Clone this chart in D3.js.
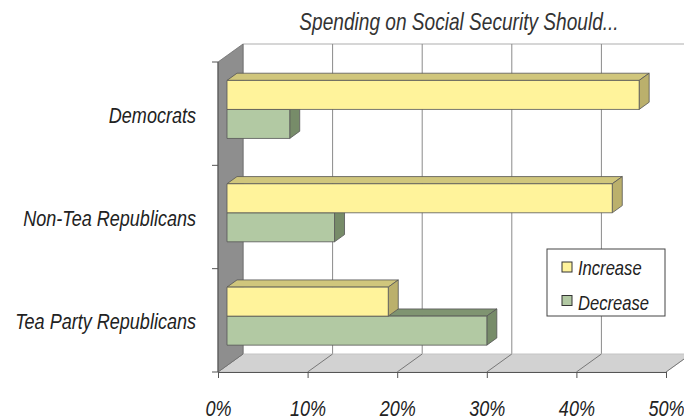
<!DOCTYPE html>
<html><head><meta charset="utf-8">
<script src="https://cdn.jsdelivr.net/npm/d3@7"></script>
<style>
html,body{margin:0;padding:0;background:#fff;}
text{font-family:"Liberation Sans Narrow","Arial Narrow","Liberation Sans",sans-serif;font-style:italic;fill:#222;}
</style></head>
<body><svg id="c" width="684" height="419"></svg>
<script>
const categories = ["Democrats", "Non-Tea Republicans", "Tea Party Republicans"];
const seriesNames = ["Increase", "Decrease"];
const increase = [46, 43, 18];
const decrease = [7, 12, 29];
const xTicks = [0, 10, 20, 30, 40, 50];
const title = "Spending on Social Security Should...";

const colors = {
  Increase: {front: "#fff39b", top: "#d0c67c", side: "#bbb06c"},
  Decrease: {front: "#b2c9a3", top: "#7f9471", side: "#778c69"}
};
const SX = 0.82; // horizontal condensing of the text

const svg = d3.select("#c");
const DX = 25, DY = -18;            // depth offset of the back wall
const f1 = 0.36, f2 = 0.76;          // bar front / back depth fractions
const x = d3.scaleLinear().domain([0, 50]).range([218, 666]);
const yTop = 62, yBot = 372;
const y0 = d3.scaleBand().domain(categories).range([yTop, yBot]).paddingInner(0.4385).paddingOuter(0.219).align(0.55);
const y1 = d3.scaleBand().domain(seriesNames).range([0, y0.bandwidth()]);
const yb = d3.scaleBand().domain(categories).range([yTop, yBot]);

// back wall
svg.append("rect").attr("x", x(0) + DX).attr("y", yTop + DY).attr("width", x(50) - x(0)).attr("height", yBot - yTop)
  .attr("fill", "#fff").attr("stroke", "none");
svg.append("line").attr("x1", x(0) + DX).attr("x2", 684).attr("y1", yTop + DY).attr("y2", yTop + DY)
  .attr("stroke", "#c8c8c8").attr("stroke-width", 1.5);
svg.append("g").selectAll("line").data(xTicks).join("line")
  .attr("x1", d => x(d) + DX).attr("x2", d => x(d) + DX)
  .attr("y1", yTop + DY).attr("y2", yBot + DY)
  .attr("stroke", "#8a8a8a").attr("stroke-width", 1);

// floor
svg.append("polygon")
  .attr("points", [[x(0), yBot], [x(50), yBot], [x(50) + DX, yBot + DY], [x(0) + DX, yBot + DY]].map(p => p.join(",")).join(" "))
  .attr("fill", "#d2d2d2").attr("stroke", "#c4c4c4");
svg.append("g").selectAll("line").data(xTicks).join("line")
  .attr("x1", d => x(d)).attr("x2", d => x(d) + DX)
  .attr("y1", yBot).attr("y2", yBot + DY)
  .attr("stroke", "#777").attr("stroke-width", 1);

// left wall
svg.append("polygon")
  .attr("points", [[x(0), yTop], [x(0) + DX, yTop + DY], [x(0) + DX, yBot + DY], [x(0), yBot]].map(p => p.join(",")).join(" "))
  .attr("fill", "#8e8e8e").attr("stroke", "#6e6e6e").attr("stroke-width", 0.8);

// bars
const bx1 = f1 * DX, by1 = f1 * DY, bx2 = f2 * DX, by2 = f2 * DY;
const rows = [];
categories.forEach((c, i) => {
  rows.push({cat: c, s: "Decrease", v: decrease[i]});
  rows.push({cat: c, s: "Increase", v: increase[i]});
});
const pts = a => a.map(p => p.join(",")).join(" ");
const gb = svg.append("g");
rows.forEach(d => {
  const top = y0(d.cat) + y1(d.s), h = y1.bandwidth();
  const xa = x(0), xv = x(d.v);
  const g = gb.append("g").attr("stroke", "#555").attr("stroke-width", 0.8).attr("stroke-linejoin", "round");
  g.append("polygon").attr("points", pts([[xa + bx1, top + by1], [xv + bx1, top + by1], [xv + bx2, top + by2], [xa + bx2, top + by2]]))
    .attr("fill", colors[d.s].top);
  g.append("polygon").attr("points", pts([[xv + bx1, top + by1], [xv + bx2, top + by2], [xv + bx2, top + h + by2], [xv + bx1, top + h + by1]]))
    .attr("fill", colors[d.s].side);
  g.append("rect").attr("x", xa + bx1).attr("y", top + by1).attr("width", xv - xa).attr("height", h)
    .attr("fill", colors[d.s].front);
});

// axes
const xAxis = d3.axisBottom(x).tickValues(xTicks).tickSize(6).tickPadding(0).tickFormat(d => d + "%");
const gx = svg.append("g").attr("transform", `translate(0,${yBot})`).call(xAxis);
gx.select(".domain").attr("stroke", "#555");
gx.selectAll(".tick line").attr("stroke", "#555");
gx.selectAll(".tick text").attr("font-size", 22).attr("font-family", null).style("fill", "#222")
  .attr("y", 44).attr("dy", null).attr("transform", `scale(${SX},1)`);

const gy = svg.append("g");
gy.append("line").attr("x1", x(0)).attr("x2", x(0)).attr("y1", yTop).attr("y2", yBot).attr("stroke", "#555");
const bounds = categories.map(c => yb(c)).concat([yBot]);
gy.selectAll("line.t").data(bounds).join("line").attr("class", "t")
  .attr("x1", x(0) - 6).attr("x2", x(0)).attr("y1", d => d).attr("y2", d => d).attr("stroke", "#555");
gy.selectAll("text").data(categories).join("text")
  .attr("transform", d => `translate(196,${yb(d) + yb.bandwidth() / 2 + 9}) scale(${SX},1)`)
  .attr("text-anchor", "end").attr("font-size", 22).text(d => d);

// title
svg.append("text").attr("transform", `translate(459,30) scale(0.83,1)`).attr("text-anchor", "middle").attr("font-size", 23)
  .style("fill", "#333").text(title);

// legend
const lg = svg.append("g");
lg.append("rect").attr("x", 547).attr("y", 249).attr("width", 118).attr("height", 67)
  .attr("fill", "#fff").attr("stroke", "#444").attr("stroke-width", 1);
seriesNames.forEach((s, i) => {
  lg.append("rect").attr("x", 562).attr("y", 262 + i * 33.5).attr("width", 10).attr("height", 10)
    .attr("fill", colors[s].front).attr("stroke", "#333").attr("stroke-width", 1);
  lg.append("text").attr("transform", `translate(578,${275 + i * 34.5}) scale(0.83,1)`).attr("font-size", 20).text(s);
});
</script></body></html>
